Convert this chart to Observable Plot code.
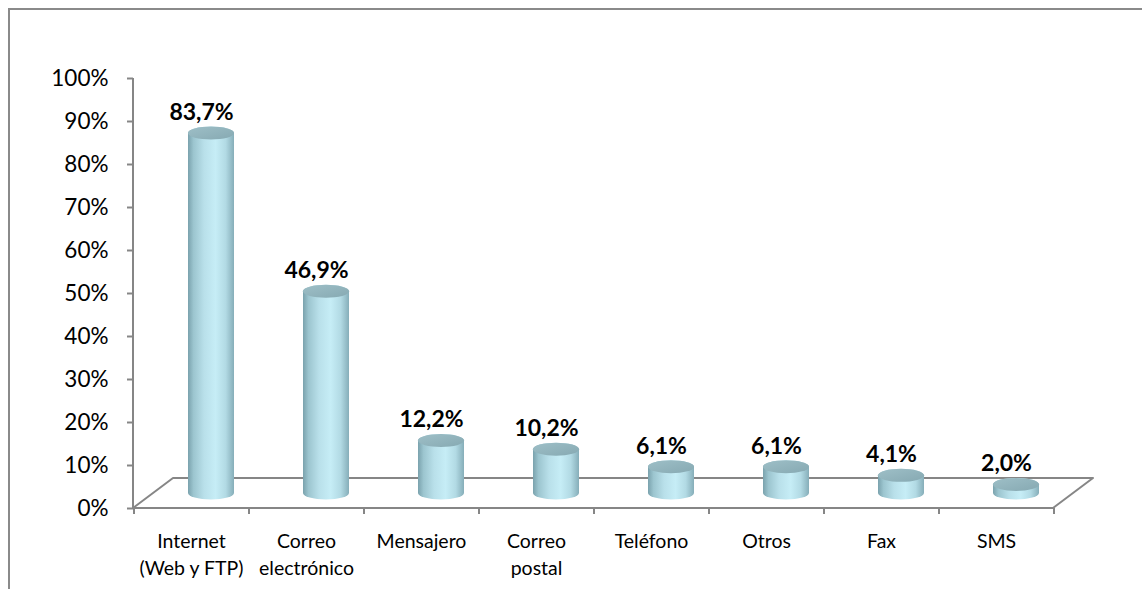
<!DOCTYPE html>
<html>
<head>
<meta charset="utf-8">
<script src="https://cdn.jsdelivr.net/npm/d3@7"></script>
<script src="https://cdn.jsdelivr.net/npm/@observablehq/plot@0.6"></script>
<style>
  html, body { margin: 0; padding: 0; background: #fff; overflow: hidden; width: 1142px; height: 589px; }
  #wrap { position: relative; width: 1142px; height: 589px; overflow: hidden; }
  #border { position: absolute; left: 8px; top: 8px; width: 1300px; height: 800px; border: 2px solid #8a8a8a; box-sizing: border-box; }
  #chart { position: absolute; left: 0; top: 0; }
</style>
</head>
<body>
<svg width="0" height="0" style="position:absolute">
  <defs>
    <linearGradient id="cylBody" x1="0" x2="1" y1="0" y2="0">
      <stop offset="0" stop-color="#7aa2ad"/>
      <stop offset="0.12" stop-color="#9cc5cf"/>
      <stop offset="0.35" stop-color="#b9e0ea"/>
      <stop offset="0.6" stop-color="#c6edf6"/>
      <stop offset="0.82" stop-color="#b2dae4"/>
      <stop offset="1" stop-color="#86aeb9"/>
    </linearGradient>
    <linearGradient id="cylTop" x1="0" x2="1" y1="0" y2="1">
      <stop offset="0" stop-color="#9ebfc7"/>
      <stop offset="1" stop-color="#86a9b2"/>
    </linearGradient>
  </defs>
</svg>
<div id="wrap">
  <div id="border"></div>
  <div id="chart"></div>
</div>
<script>
const categories = ["Internet\n(Web y FTP)", "Correo\nelectrónico", "Mensajero", "Correo\npostal", "Teléfono", "Otros", "Fax", "SMS"];
const values = [83.7, 46.9, 12.2, 10.2, 6.1, 6.1, 4.1, 2.0];
const yTicks = [0, 10, 20, 30, 40, 50, 60, 70, 80, 90, 100];

const data = categories.map((c, i) => ({category: c, value: values[i]}));

const W = 1142, H = 589;
const mL = 133, mR = 89, mT = 78, mB = 81;
const DX = 40, DY = 30;           // 3D floor depth (pixels)
const step = (W - mL - mR) / categories.length;
const grey = "#868686";
const ry = 6.5;

const fmt = v => v.toFixed(1).replace(".", ",") + "%";

function floorMark(index, scales, values, dims) {
  const d = dims || {width: W, height: H, marginLeft: mL, marginRight: mR, marginTop: mT, marginBottom: mB};
  const x0 = d.marginLeft, x1 = d.width - d.marginRight;
  const y0 = d.height - d.marginBottom, yt = d.marginTop;
  const g = d3.create("svg:g");
  g.append("path")
    .attr("d", `M${x0},${y0}L${x0 + DX},${y0 - DY}L${x1 + DX},${y0 - DY}L${x1},${y0}Z`)
    .attr("fill", "none").attr("stroke", grey).attr("stroke-width", 2).attr("stroke-linejoin", "round");
  g.append("line")
    .attr("x1", x0).attr("x2", x0).attr("y1", yt).attr("y2", y0)
    .attr("stroke", grey).attr("stroke-width", 2);
  return g.node();
}

const chart = Plot.plot({
  width: W,
  height: H,
  marginLeft: mL,
  marginRight: mR,
  marginTop: mT,
  marginBottom: mB,
  style: {fontFamily: "Lato, 'Open Sans', sans-serif", background: "transparent", color: "#000", overflow: "visible"},
  x: {domain: categories, paddingInner: 0.6, paddingOuter: 0.3, axis: null},
  y: {domain: [0, 100], axis: null},
  marks: [
    floorMark,
    Plot.axisY({ticks: yTicks, tickFormat: d => d + "%", tickSize: 6, tickPadding: 19, fontSize: 22.5, stroke: grey, strokeWidth: 2, fill: "#000", label: null}),
    Plot.axisX({tickSize: 0, tickPadding: 21, fontSize: 19.5, lineHeight: 1.35, fill: "#000", label: null}),
    Plot.ruleX(categories, {x: d => d, y1: 0, y2: 0, insetBottom: -6, dx: -step / 2, stroke: grey, strokeWidth: 2}),
    Plot.ruleX(categories.slice(-1), {x: d => d, y1: 0, y2: 0, insetBottom: -6, dx: step / 2, stroke: grey, strokeWidth: 2}),
    Plot.barY(data, {x: "category", y: "value", fill: "url(#cylBody)", rx: 23, ry: ry, insetTop: -ry, insetBottom: -ry, dx: DX / 2, dy: -DY / 2}),
    Plot.barY(data, {x: "category", y1: "value", y2: "value", fill: "url(#cylTop)", rx: 23, ry: ry, insetTop: -ry, insetBottom: -ry, dx: DX / 2, dy: -DY / 2}),
    Plot.text(data, {x: "category", y: "value", text: d => fmt(d.value), fontSize: 23, fontWeight: "bold", fill: "#000", dx: 10, dy: -DY / 2 - 21})
  ]
});
document.getElementById("chart").appendChild(chart);
</script>
</body>
</html>
